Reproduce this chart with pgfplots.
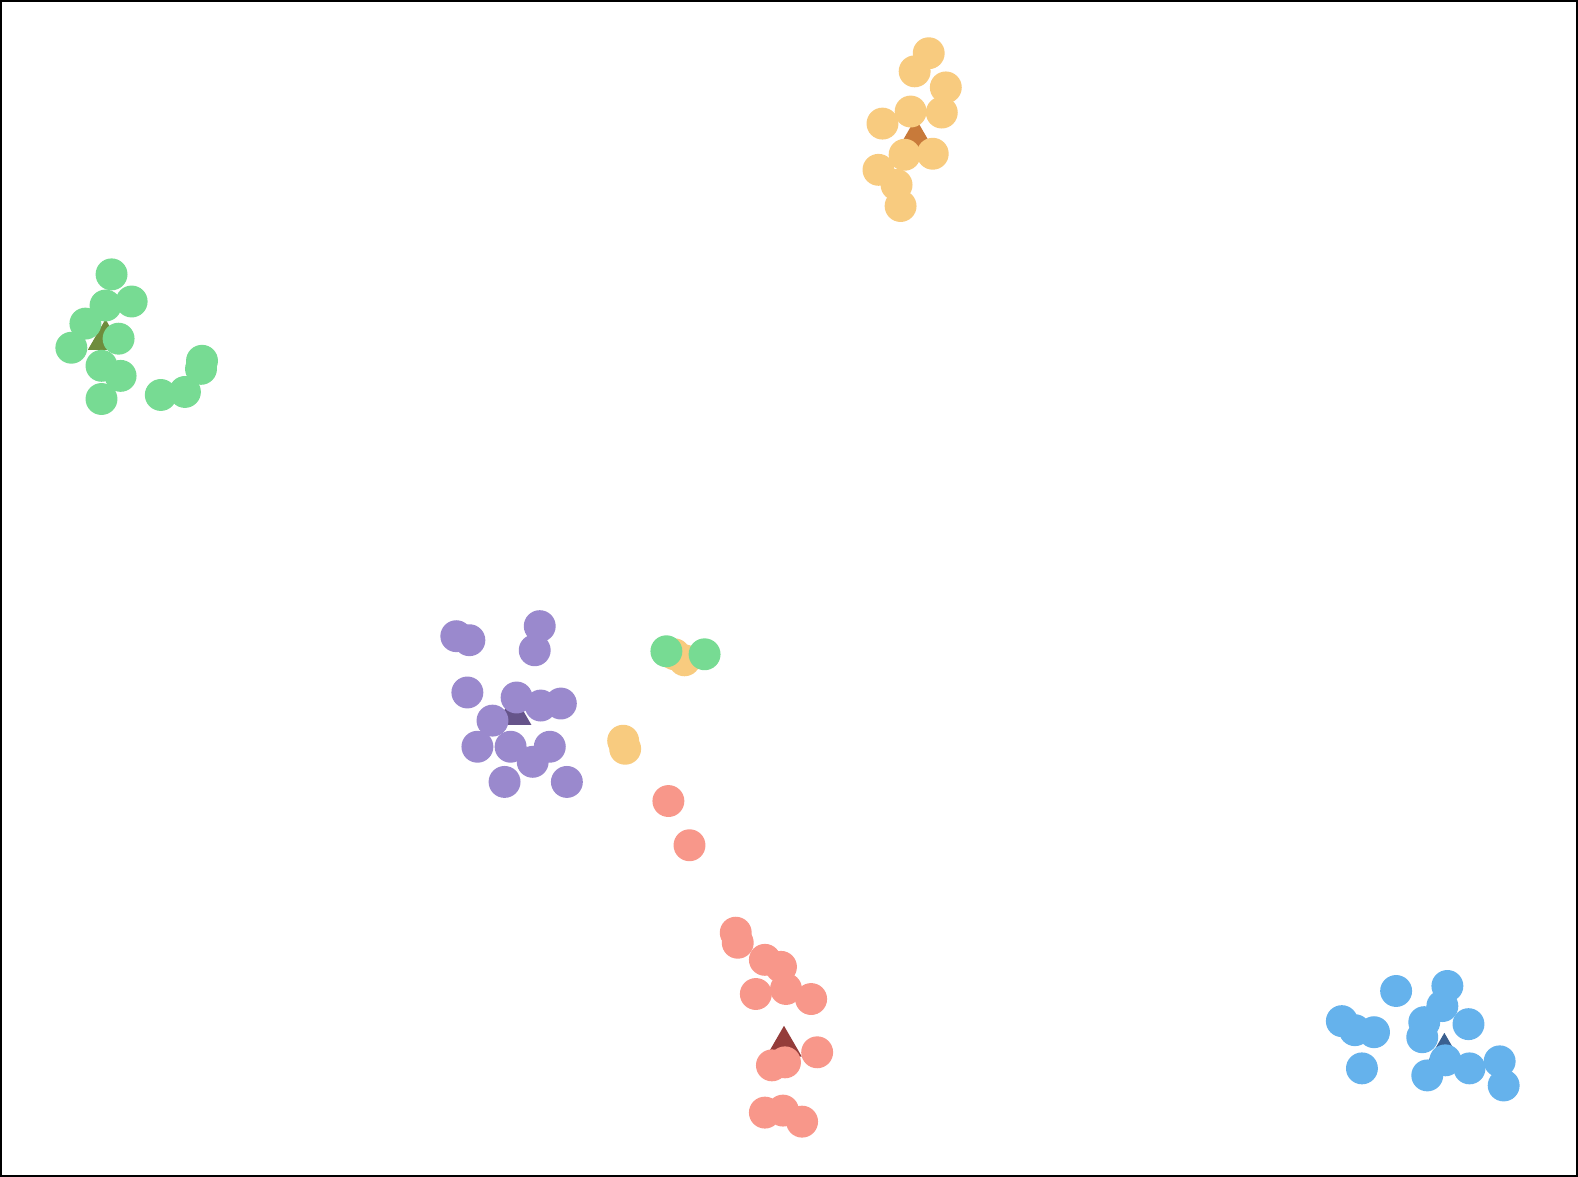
\documentclass[border=0pt]{standalone}
\usepackage{pgfplots}
\pgfplotsset{compat=1.18}
\definecolor{cyel}{HTML}{F8CB7F}
\definecolor{cgrn}{HTML}{77DB93}
\definecolor{cpur}{HTML}{9A89CD}
\definecolor{cred}{HTML}{F8978A}
\definecolor{cblu}{HTML}{65B2EC}
\definecolor{tyel}{HTML}{C87A3A}
\definecolor{tgrn}{HTML}{6E8C3C}
\definecolor{tpur}{HTML}{66548A}
\definecolor{tred}{HTML}{943C3A}
\definecolor{tblu}{HTML}{3A6090}
\begin{document}
\begin{tikzpicture}
\begin{axis}[
    scale only axis,
    width=400pt, height=298.2pt,
    xmin=0, xmax=1568, ymin=0, ymax=1169,
    y dir=reverse,
    ticks=none,
    axis line style={line width=0.5pt},
    clip=false,
]
% centroids
\addplot[only marks, mark=triangle*, mark size=4.8pt, draw=tyel, fill=tyel] coordinates {(910,137)};
\addplot[only marks, mark=triangle*, mark size=4.8pt, draw=tgrn, fill=tgrn] coordinates {(104,337)};
\addplot[only marks, mark=triangle*, mark size=4.8pt, draw=tpur, fill=tpur] coordinates {(510,710)};
\addplot[only marks, mark=triangle*, mark size=4.8pt, draw=tred, fill=tred] coordinates {(779,1040)};
\addplot[only marks, mark=triangle*, mark size=4.8pt, draw=tblu, fill=tblu] coordinates {(1436,1047)};
% clusters
\addplot[only marks, mark=*, mark size=3.85pt, draw=cyel, fill=cyel] coordinates {
(923,52) (909,70) (940,86) (905,110) (936,111) (877,122) (899,153) (927,152)
(873,168) (891,183) (895,204) (670,650) (680,656) (619,736) (621,744)};
\addplot[only marks, mark=*, mark size=3.85pt, draw=cgrn, fill=cgrn] coordinates {
(110,272) (104,303) (130,299) (84,321) (117,336) (70,345) (100,363) (119,373)
(100,396) (159,392) (183,389) (200,358) (199,366) (662,647) (700,650)};
\addplot[only marks, mark=*, mark size=3.85pt, draw=cpur, fill=cpur] coordinates {
(453,632) (466,636) (536,622) (531,646) (464,688) (513,693) (537,701) (557,699)
(489,716) (474,742) (507,742) (546,742) (529,757) (501,777) (563,777)};
\addplot[only marks, mark=*, mark size=3.85pt, draw=cred, fill=cred] coordinates {
(731,927) (733,937) (760,954) (776,961) (751,988) (781,983) (806,993) (812,1046)
(767,1059) (780,1056) (760,1106) (778,1104) (797,1115) (664,796) (685,840)};
\addplot[only marks, mark=*, mark size=3.85pt, draw=cblu, fill=cblu] coordinates {
(1388,985) (1439,980) (1434,1000) (1416,1016) (1460,1018) (1334,1015) (1347,1024)
(1366,1026) (1414,1031) (1437,1054) (1461,1062) (1419,1069) (1354,1062) (1491,1055) (1495,1079)};
\end{axis}
\end{tikzpicture}
\end{document}
